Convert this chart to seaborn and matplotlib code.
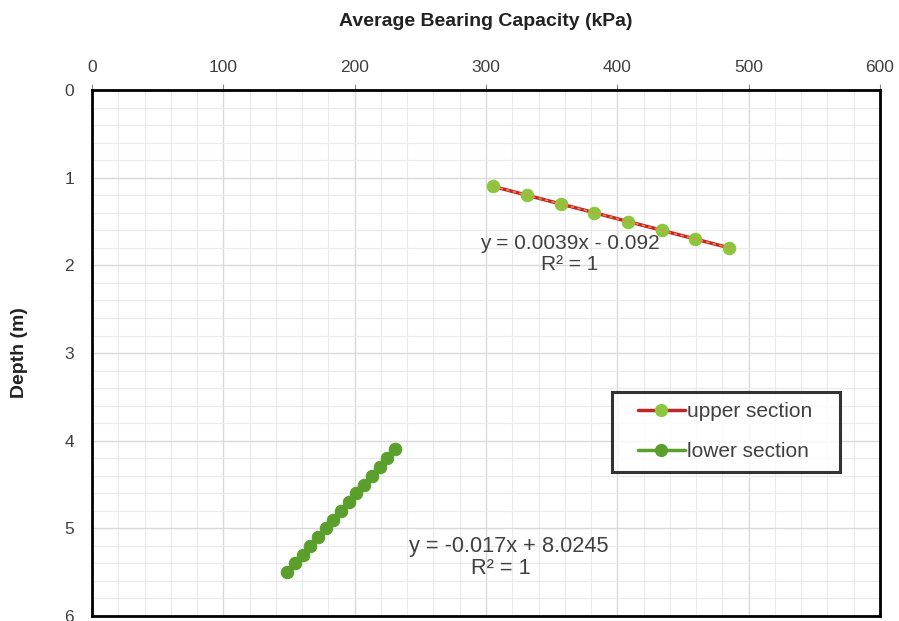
import matplotlib
matplotlib.use("Agg")
import matplotlib.pyplot as plt
from matplotlib.ticker import MultipleLocator
from matplotlib.lines import Line2D
from matplotlib.legend_handler import HandlerLine2D
import seaborn as sns
import pandas as pd

# Data
upper_x = [305.6, 331.3, 357.0, 382.6, 408.2, 433.8, 459.5, 485.1]
upper_depth = [1.1, 1.2, 1.3, 1.4, 1.5, 1.6, 1.7, 1.8]
lower_x = [230.9, 225.0, 219.1, 213.2, 207.3, 201.4, 195.6, 189.7, 183.8,
           177.9, 172.0, 166.1, 160.3, 154.4, 148.5]
lower_depth = [4.1, 4.2, 4.3, 4.4, 4.5, 4.6, 4.7, 4.8, 4.9, 5.0, 5.1, 5.2, 5.3, 5.4, 5.5]
x_ticks = [0, 100, 200, 300, 400, 500, 600]
y_ticks = [0, 1, 2, 3, 4, 5, 6]
series_labels = ["upper section", "lower section"]

sns.set_style("white")
plt.rcParams['font.family'] = ['Liberation Sans', 'DejaVu Sans']

fig = plt.figure(figsize=(8.99, 6.21), dpi=100)
ax = fig.add_axes([0.1023, 0.008, 0.8766, 0.847])

up = pd.DataFrame({"x": upper_x, "d": upper_depth})
lo = pd.DataFrame({"x": lower_x, "d": lower_depth})

red = "#C0272D"
lightg = "#8CC63F"
darkg = "#5A9E2B"

sns.lineplot(data=up, x="x", y="d", sort=False, ax=ax, color=red, lw=2.5,
             marker="o", markersize=9, markerfacecolor=lightg, markeredgecolor=lightg, zorder=3)
ax.plot(upper_x, upper_depth, color="#F08A3C", lw=1.2, ls=(0, (2, 2)), zorder=3.5)
sns.lineplot(data=lo, x="x", y="d", sort=False, ax=ax, color=darkg, lw=2.5,
             marker="o", markersize=9, markerfacecolor=darkg, markeredgecolor=darkg, zorder=3)

ax.set_xlim(0, 600)
ax.set_ylim(6, 0)
ax.xaxis.tick_top()
ax.xaxis.set_label_position("top")
ax.set_xticks(x_ticks)
ax.set_yticks(y_ticks)
ax.xaxis.set_minor_locator(MultipleLocator(20))
ax.yaxis.set_minor_locator(MultipleLocator(0.2))
ax.grid(which="major", color="#D9D9D9", lw=1.0)
ax.grid(which="minor", color="#EBEBEB", lw=0.8)
ax.set_axisbelow(True)
ax.tick_params(axis="both", which="major", labelsize=12.5, length=4, color="#888888",
               labelcolor="#404040", direction="out")
ax.tick_params(axis="x", pad=7)
ax.tick_params(axis="y", pad=9)
ax.tick_params(which="minor", length=0)
for s in ax.spines.values():
    s.set_color("black")
    s.set_linewidth(2)

ax.set_xlabel("Average Bearing Capacity (kPa)", fontsize=14, fontweight="bold", labelpad=24, color="#222222")
ax.set_ylabel("Depth (m)", fontsize=14, fontweight="bold", labelpad=26, color="#222222")

ax.text(364, 1.745, "y = 0.0039x - 0.092", ha="center", va="center", fontsize=15, color="#404040", zorder=5)
ax.text(364, 1.985, "R² = 1", ha="center", va="center", fontsize=15, color="#404040", zorder=5)
ax.text(317, 5.21, "y = -0.017x + 8.0245", ha="center", va="center", fontsize=15.7, color="#404040", zorder=5)
ax.text(311, 5.46, "R² = 1", ha="center", va="center", fontsize=15.7, color="#404040", zorder=5)


class OffsetHandler(HandlerLine2D):
    def __init__(self, offset, **kw):
        super().__init__(**kw)
        self.offset = offset

    def create_artists(self, legend, orig_handle, xdescent, ydescent, width, height, fontsize, trans):
        return super().create_artists(legend, orig_handle, xdescent - self.offset, ydescent,
                                      width - self.offset, height, fontsize, trans)


handles = [Line2D([], [], color=red, lw=2.5, marker="o", markersize=8.5,
                  markerfacecolor=lightg, markeredgecolor=lightg),
           Line2D([], [], color=darkg, lw=2.5, marker="o", markersize=8.5,
                  markerfacecolor=darkg, markeredgecolor=darkg)]
hmap = {h: OffsetHandler(11, numpoints=1) for h in handles}
leg = ax.legend(handles, [s + "   " for s in series_labels], loc="upper left",
                bbox_to_anchor=(0.66, 0.426), borderaxespad=0, fontsize=15, frameon=True,
                fancybox=False, handlelength=3.0, handletextpad=0.1, borderpad=0.5,
                labelspacing=1.0, handler_map=hmap)
leg.get_frame().set_edgecolor("black")
leg.get_frame().set_linewidth(2.2)
for t in leg.get_texts():
    t.set_color("#404040")

fig.savefig("out.png", dpi=100)
